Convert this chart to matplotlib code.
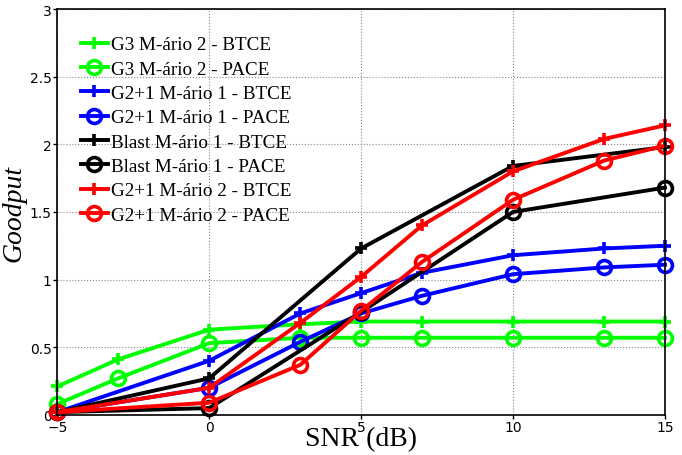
import numpy as np
import matplotlib
matplotlib.use("Agg")
from matplotlib import pyplot as plt

# SNR values (dB)
snr_g3 = [-5, -3, 0, 3, 5, 7, 10, 13, 15]
snr_g21 = [-5, 0, 3, 5, 7, 10, 13, 15]
snr_blast = [-5, 0, 5, 10, 15]

# goodput
g3_btce = [0.21, 0.41, 0.63, 0.67, 0.69, 0.69, 0.69, 0.69, 0.69]
g3_pace = [0.08, 0.27, 0.53, 0.57, 0.57, 0.57, 0.57, 0.57, 0.57]
g21m1_btce = [0.02, 0.40, 0.75, 0.90, 1.05, 1.18, 1.23, 1.25]
g21m1_pace = [0.02, 0.20, 0.54, 0.75, 0.88, 1.04, 1.09, 1.11]
blast_btce = [0.02, 0.27, 1.23, 1.84, 1.98]
blast_pace = [0.02, 0.05, 0.76, 1.50, 1.68]
g21m2_btce = [0.02, 0.20, 0.68, 1.02, 1.40, 1.80, 2.04, 2.14]
g21m2_pace = [0.02, 0.09, 0.37, 0.77, 1.13, 1.59, 1.88, 1.99]

labels = [
    "G3 M-ário 2 - BTCE", "G3 M-ário 2 - PACE",
    "G2+1 M-ário 1 - BTCE", "G2+1 M-ário 1 - PACE",
    "Blast M-ário 1 - BTCE", "Blast M-ário 1 - PACE",
    "G2+1 M-ário 2 - BTCE", "G2+1 M-ário 2 - PACE",
]
series = [
    (snr_g3, g3_btce, "#00ff00", "+"), (snr_g3, g3_pace, "#00ff00", "o"),
    (snr_g21, g21m1_btce, "#0000ff", "+"), (snr_g21, g21m1_pace, "#0000ff", "o"),
    (snr_blast, blast_btce, "k", "+"), (snr_blast, blast_pace, "k", "o"),
    (snr_g21, g21m2_btce, "#ff0000", "+"), (snr_g21, g21m2_pace, "#ff0000", "o"),
]

fig = plt.figure(figsize=(6.82, 4.56), dpi=100)
ax = fig.add_axes([0.084, 0.088, 0.891, 0.890])

for (x, y, c, m), lab in zip(series, labels):
    if m == "+":
        ax.plot(x, y, color=c, lw=2.8, marker="+", ms=9, mew=2.6, label=lab, clip_on=False)
    else:
        ax.plot(x, y, color=c, lw=2.8, marker="o", ms=10, mew=2.6, mfc="none", label=lab, clip_on=False)

ax.set_xlim(-5, 15)
ax.set_ylim(0, 3)
ax.set_xticks([-5, 0, 5, 10, 15])
ax.set_yticks([0, 0.5, 1, 1.5, 2, 2.5, 3])
ax.set_xticklabels(["\u22125", "0", "5", "10", "15"])
ax.set_yticklabels(["0", "0.5", "1", "1.5", "2", "2.5", "3"])
ax.tick_params(direction="out", labelsize=10, length=3, pad=1, width=1)
ax.grid(True, linestyle=":", color="#888888", lw=0.8)
for s in ax.spines.values():
    s.set_linewidth(1.2)

ax.set_xlabel("SNR (dB)", family="Liberation Serif", fontsize=20, labelpad=-6)
ax.set_ylabel("Goodput", family="Liberation Serif", style="italic", fontsize=20, labelpad=2)

leg = ax.legend(loc="upper left", bbox_to_anchor=(0.02, 0.962), frameon=False,
                prop={"family": "Liberation Serif", "size": 13.8},
                handlelength=1.4, handletextpad=0.15, labelspacing=0.36, borderaxespad=0.2)

fig.savefig("out.png", dpi=100)
